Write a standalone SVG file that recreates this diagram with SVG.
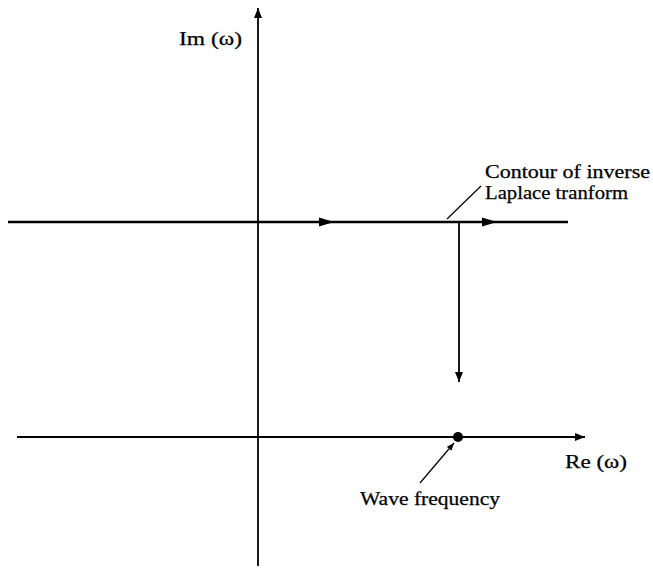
<svg xmlns="http://www.w3.org/2000/svg" width="653" height="569" viewBox="0 0 653 569">
<style>
.ax{stroke:#000;stroke-width:1.8;fill:none}
.thick{stroke:#000;stroke-width:2.6;fill:none}
.lead{stroke:#000;stroke-width:1.2;fill:none}
text{font-family:"Liberation Serif","Times New Roman",serif;font-size:18px;fill:#000;stroke:#000;stroke-width:0.25}
</style>
<defs>
<marker id="ah" viewBox="0 0 10 8" refX="10" refY="4" markerWidth="10" markerHeight="8" markerUnits="userSpaceOnUse" orient="auto">
<path d="M0,0 L10,4 L0,8 Z" fill="#000"/>
</marker>
<marker id="ahs" viewBox="0 0 10 8" refX="10" refY="4" markerWidth="8" markerHeight="6" markerUnits="userSpaceOnUse" orient="auto">
<path d="M0,0 L10,4 L0,8 Z" fill="#000"/>
</marker>
</defs>
<g id="connectors">
<line class="ax" x1="258" y1="566" x2="258" y2="8" marker-end="url(#ah)"/>
<line class="ax" x1="17" y1="437" x2="585" y2="437" marker-end="url(#ah)"/>
<line class="thick" x1="8" y1="222" x2="568" y2="222"/>
<path d="M319,217.5 L334,222 L319,226.5 Z" fill="#000"/>
<path d="M482,217.5 L497,222 L482,226.5 Z" fill="#000"/>
<line class="ax" x1="459" y1="222" x2="459" y2="382" marker-end="url(#ah)"/>
<line class="lead" x1="447" y1="219" x2="481" y2="186"/>
<line class="lead" x1="420" y1="483" x2="454" y2="443" marker-end="url(#ahs)"/>
</g>
<g id="dot"><circle cx="458" cy="437" r="5" fill="#000"/></g>
<g id="im-label"><text x="179" y="45" textLength="63" lengthAdjust="spacingAndGlyphs">Im (ω)</text></g>
<g id="re-label"><text x="565" y="468" textLength="62" lengthAdjust="spacingAndGlyphs">Re (ω)</text></g>
<g id="contour-label">
<text x="485" y="178" textLength="165" lengthAdjust="spacingAndGlyphs">Contour of inverse</text>
<text x="485" y="199" textLength="143" lengthAdjust="spacingAndGlyphs">Laplace tranform</text>
</g>
<g id="wave-label"><text x="360" y="505" textLength="140" lengthAdjust="spacingAndGlyphs">Wave frequency</text></g>
</svg>
